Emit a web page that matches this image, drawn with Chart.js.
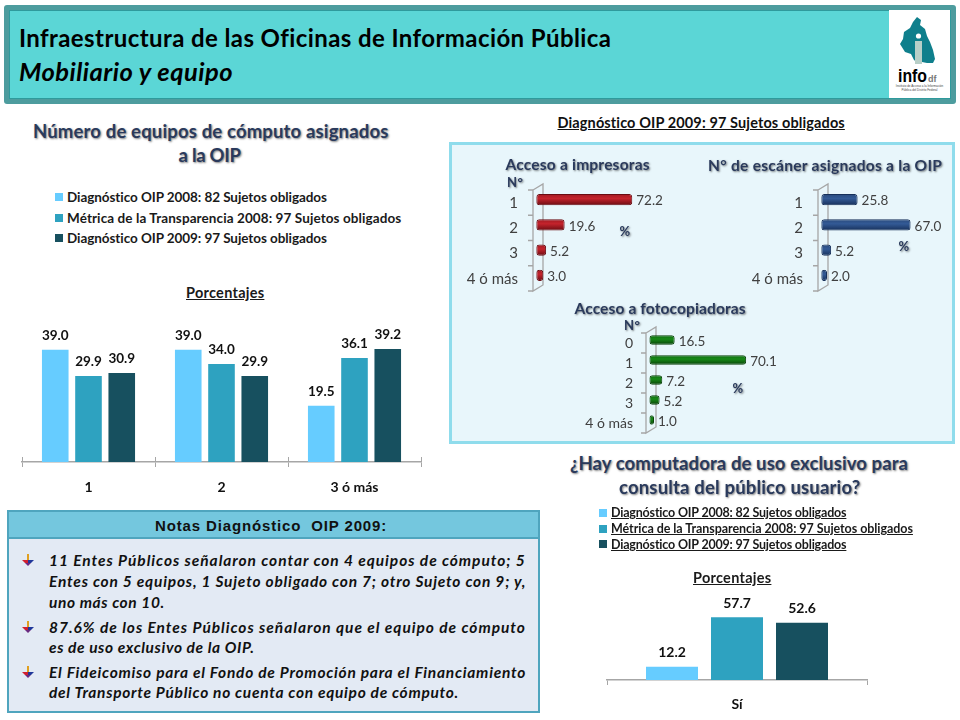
<!DOCTYPE html>
<html lang="es">
<head>
<meta charset="utf-8">
<title>Infraestructura de las Oficinas de Información Pública</title>
<script src="https://cdn.jsdelivr.net/npm/chart.js@4"></script>
<style>
html, body { margin: 0; padding: 0; background: #fff; }
#page { position: relative; width: 960px; height: 720px; overflow: hidden; font-family: Lato, sans-serif; }
#page canvas, #page svg, .box, .txt, .swatch { position: absolute; }
.txt { white-space: pre; }
.shadow { text-shadow: 1px 1px 2px rgba(0,0,0,.5); }
</style>
</head>
<body>
<div id="page">
  <div class="box" style="left:4px;top:5px;width:952px;height:99px;background:#4d9c9e;border-radius:3px"></div>
  <div class="box" style="left:9px;top:10px;width:940px;height:87px;background:#5bd6d6;border:1px solid #2f9a9c"></div>

  <svg style="left:889px;top:10px" width="61" height="88" viewBox="889 10 61 88">
    <rect x="889" y="10" width="61" height="88" fill="#fff"/>
    <path d="M917 17 l4 3 l-1 5 l5 4 l2 7 l3 6 l3 8 l2 9 l-2 4 l-6 0 l-5 -1 l-4 1 l-4 -3 l-3 -6 l-6 -2 l-5 -8 l3 -5 l1 -7 l6 -4 l3 -6 z" fill="#0f7f8c"/>
    <circle cx="918.5" cy="36" r="2.6" fill="#fff"/>
    <rect x="915" y="41" width="7" height="23" fill="#b8cfc8"/>
    <text x="898" y="82" font-family="Liberation Sans" font-weight="700" font-size="18" textLength="29" lengthAdjust="spacingAndGlyphs" fill="#000">info</text>
    <text x="928" y="82" font-family="Liberation Sans" font-weight="700" font-size="9" fill="#777">df</text>
    <text x="919.5" y="87" text-anchor="middle" font-family="Liberation Sans" font-size="3" fill="#444">Instituto de Acceso a la Información</text>
    <text x="919.5" y="91" text-anchor="middle" font-family="Liberation Sans" font-size="3" fill="#444">Pública del Distrito Federal</text>
  </svg>

  <div class="box" style="left:449px;top:142px;width:500px;height:296px;background:#e8f6fb;border:3px solid #8fdcec"></div>

  <div class="box" style="left:7px;top:510px;width:529px;height:199px;background:#e3eaf4;border:2px solid #4fa5be"></div>
  <div class="box" style="left:9px;top:512px;width:529px;height:25px;background:#74c7de;border-bottom:2px solid #4fa5be"></div>

  <canvas id="equiposChart"></canvas>
  <canvas id="impresorasChart"></canvas>
  <canvas id="escanerChart"></canvas>
  <canvas id="fotocopiadorasChart"></canvas>
  <canvas id="computadoraChart"></canvas>
</div>

<script>
// Series shared by the two column charts
const seriesNames = [
    'Diagnóstico OIP 2008: 82 Sujetos obligados',
    'Métrica de la Transparencia 2008: 97 Sujetos obligados',
    'Diagnóstico OIP 2009: 97 Sujetos obligados'
];
const seriesColors = ['#66ccff', '#2ea2c0', '#17505f'];

// Número de equipos de cómputo
const equiposLabels = ['1', '2', '3 ó más'];
const equipos2008 = [39.0, 39.0, 19.5];
const equiposMetrica = [29.9, 34.0, 36.1];
const equipos2009 = [30.9, 29.9, 39.2];

// Computadora de uso exclusivo
const computadoraLabels = ['Sí'];
const computadora2008 = [12.2];
const computadoraMetrica = [57.7];
const computadora2009 = [52.6];

// Diagnóstico OIP 2009 panels
const impresorasLabels = ['1', '2', '3', '4 ó más'];
const impresorasValues = [72.2, 19.6, 5.2, 3.0];
const escanerLabels = ['1', '2', '3', '4 ó más'];
const escanerValues = [25.8, 67.0, 5.2, 2.0];
const fotocopiadorasLabels = ['0', '1', '2', '3', '4 ó más'];
const fotocopiadorasValues = [16.5, 70.1, 7.2, 5.2, 1.0];

const page = document.getElementById('page');
const AXIS_COLOR = '#a6a6a6';

// Add one line of text, stretched to the width it has in the slide
function addText(str, o) {
    const el = document.createElement('div');
    el.className = 'txt' + (o.shadow ? ' shadow' : '');
    el.textContent = str;
    el.style.font = (o.style || '') + ' ' + (o.weight || 700) + ' ' + o.size + 'px/1.2 ' + (o.family || 'Lato');
    el.style.color = o.color || '#111';
    if (o.underline) el.style.textDecoration = 'underline';
    page.appendChild(el);
    el.style.letterSpacing = ((o.width - el.offsetWidth) / str.length) + 'px';
    const left = o.cx !== undefined ? o.cx - o.width / 2 : o.x;
    el.style.left = left + 'px';
    el.style.top = (o.y - el.offsetHeight / 2) + 'px';
}

// Legend of the column charts, built from the series arrays
function addLegend(x, ys, widths, size, underline) {
    seriesNames.forEach((name, i) => {
        const sw = document.createElement('div');
        sw.className = 'swatch';
        sw.style.cssText = 'left:' + x + 'px;top:' + (ys[i] - 4) + 'px;width:8px;height:8px;background:' + seriesColors[i];
        page.appendChild(sw);
        addText(name, { x: x + 12, y: ys[i], width: widths[i], size: size, underline: underline, color: '#1a1a1a' });
    });
}

// Value labels over or beside the bars
const barLabels = {
    id: 'barLabels',
    afterDatasetsDraw(chart, args, opts) {
        const ctx = chart.ctx;
        ctx.save();
        ctx.font = opts.font;
        ctx.fillStyle = opts.color;
        chart.data.datasets.forEach((ds, d) => {
            chart.getDatasetMeta(d).data.forEach((bar, i) => {
                const text = ds.data[i].toFixed(1);
                if (opts.horizontal) {
                    ctx.textAlign = 'left';
                    ctx.textBaseline = 'middle';
                    ctx.fillText(text, bar.x + 4, bar.y + 1.5);
                } else {
                    ctx.textAlign = 'center';
                    ctx.textBaseline = 'middle';
                    ctx.fillText(text, bar.x, bar.y - 14);
                }
            });
        });
        ctx.restore();
    }
};

// Ticks of the category axis also rise above the line in the first chart
const upTicks = {
    id: 'upTicks',
    afterDatasetsDraw(chart) {
        const x = chart.scales.x, ctx = chart.ctx, n = chart.data.labels.length;
        ctx.save();
        ctx.strokeStyle = AXIS_COLOR;
        ctx.lineWidth = 1;
        for (let i = 0; i <= n; i++) {
            const px = Math.round(x.left + i * x.width / n) + 0.5;
            ctx.beginPath();
            ctx.moveTo(px, x.top - 5);
            ctx.lineTo(px, x.top);
            ctx.stroke();
        }
        ctx.restore();
    }
};

// Thin 3D wall behind the horizontal bars
const wall = {
    id: 'wall',
    beforeDatasetsDraw(chart) {
        const a = chart.chartArea, ctx = chart.ctx, n = chart.data.labels.length;
        const step = (a.bottom - a.top) / n;
        ctx.save();
        ctx.strokeStyle = AXIS_COLOR;
        ctx.lineWidth = 1.3;
        ctx.beginPath();
        ctx.moveTo(a.left, a.top + 3);
        ctx.lineTo(a.left + 10, a.top - 3);
        ctx.lineTo(a.left + 10, a.bottom - 3);
        ctx.lineTo(a.left, a.bottom + 3);
        ctx.lineTo(a.left, a.top + 3);
        for (let i = 0; i <= n; i++) {
            const py = a.top + 3 + i * step;
            ctx.moveTo(a.left - 5, py);
            ctx.lineTo(a.left, py);
        }
        ctx.stroke();
        ctx.restore();
    }
};

// Column chart. plot is the rectangle of the plot area on the page
function makeColumnChart(id, labels, series, plot, yMax, cfg) {
    const el = document.getElementById(id);
    const pad = 10, topPad = 14, axisHeight = 40;
    el.width = plot.width + pad * 2;
    el.height = plot.height + topPad + axisHeight;
    el.style.left = (plot.left - pad) + 'px';
    el.style.top = (plot.top - topPad) + 'px';
    new Chart(el, {
        type: 'bar',
        data: {
            labels: labels,
            datasets: series.map((values, i) => ({
                label: seriesNames[i],
                data: values,
                backgroundColor: seriesColors[i],
                categoryPercentage: 0.75,
                barPercentage: 0.8
            }))
        },
        options: {
            responsive: false,
            animation: false,
            layout: { padding: { left: pad, right: pad, top: topPad, bottom: 0 } },
            plugins: {
                legend: { display: false },
                tooltip: { enabled: false },
                barLabels: { font: cfg.labelFont, color: '#111' }
            },
            scales: {
                y: { display: false, min: 0, max: yMax },
                x: {
                    afterFit(scale) { scale.height = axisHeight; },
                    border: { color: AXIS_COLOR, width: 1.5 },
                    grid: { drawOnChartArea: false, color: AXIS_COLOR, tickLength: 5 },
                    ticks: { color: '#111', padding: cfg.tickPadding, font: { family: 'Lato', size: 14, weight: 'bold' } }
                }
            }
        },
        plugins: cfg.upTicks ? [barLabels, upTicks] : [barLabels]
    });
}

// Horizontal cylinder-looking bars
function makeBarChart(id, labels, values, shades, plot, cfg) {
    const el = document.getElementById(id);
    const axisWidth = 90, vPad = 12, right = 40;
    el.width = axisWidth + plot.width + right;
    el.height = plot.height + vPad * 2;
    el.style.left = (plot.left - axisWidth) + 'px';
    el.style.top = (plot.top - vPad) + 'px';
    const barShare = cfg.barShare;
    new Chart(el, {
        type: 'bar',
        data: {
            labels: labels,
            datasets: [{
                data: values,
                base: -2.4,
                borderRadius: 3,
                borderSkipped: false,
                borderWidth: 1,
                borderColor: shades[2],
                categoryPercentage: 1,
                barPercentage: barShare,
                backgroundColor(c) {
                    const chart = c.chart;
                    if (!chart.chartArea || c.dataIndex === undefined) return shades[1];
                    const y = chart.scales.y.getPixelForValue(c.dataIndex);
                    const h = (chart.chartArea.height / labels.length) * barShare / 2;
                    const g = chart.ctx.createLinearGradient(0, y - h, 0, y + h);
                    g.addColorStop(0, shades[0]);
                    g.addColorStop(0.4, shades[1]);
                    g.addColorStop(1, shades[2]);
                    return g;
                }
            }]
        },
        options: {
            indexAxis: 'y',
            responsive: false,
            animation: false,
            layout: { padding: { left: 0, right: right, top: vPad, bottom: vPad } },
            plugins: {
                legend: { display: false },
                tooltip: { enabled: false },
                barLabels: { font: '13.5px Lato', color: '#404040', horizontal: true }
            },
            scales: {
                x: { display: false, min: -5, max: 100 },
                y: {
                    afterFit(scale) {
                        scale.width = axisWidth;
                        // keep the plot area exactly as tall as asked
                        scale.paddingTop = 0;
                        scale.paddingBottom = 0;
                    },
                    border: { display: false },
                    grid: { display: false },
                    ticks: {
                        color: '#404040',
                        padding: cfg.tickPadding,
                        labelOffset: 3.5,
                        font: { family: 'Lato', size: cfg.tickSize }
                    }
                }
            }
        },
        plugins: [wall, barLabels]
    });
}

// Initialize the charts
function initializeCharts() {
    makeColumnChart('equiposChart', equiposLabels, [equipos2008, equiposMetrica, equipos2009],
        { left: 22, top: 318, width: 399, height: 144 }, 50,
        { labelFont: 'bold 13.5px Lato', tickPadding: 12, upTicks: true });

    makeColumnChart('computadoraChart', computadoraLabels, [computadora2008, computadoraMetrica, computadora2009],
        { left: 606.7, top: 593, width: 260, height: 87.6 }, 80,
        { labelFont: 'bold 14px Lato', tickPadding: 11, upTicks: false });

    const red = ['#a01a22', '#c4232c', '#6a0c12'];
    const blue = ['#2a4a7c', '#335a96', '#17305a'];
    const green = ['#0f6a0f', '#178a17', '#084208'];
    makeBarChart('impresorasChart', impresorasLabels, impresorasValues, red,
        { left: 532.6, top: 187, width: 135, height: 101 }, { barShare: 0.45, tickSize: 15, tickPadding: 7 });
    makeBarChart('escanerChart', escanerLabels, escanerValues, blue,
        { left: 818, top: 187, width: 135, height: 101 }, { barShare: 0.45, tickSize: 15, tickPadding: 7 });
    makeBarChart('fotocopiadorasChart', fotocopiadorasLabels, fotocopiadorasValues, green,
        { left: 646.3, top: 329.7, width: 140.4, height: 100 }, { barShare: 0.47, tickSize: 14, tickPadding: 5 });
}

// Titles, legends and notes
function initializeTexts() {
    addText('Infraestructura de las Oficinas de Información Pública', { x: 19, y: 38, width: 592, size: 24, color: '#000' });
    addText('Mobiliario y equipo', { x: 19, y: 71, width: 214, size: 25.5, style: 'italic', color: '#000' });

    const navy = '#2a3a5c';
    addText('Número de equipos de cómputo asignados', { cx: 210.5, y: 131, width: 355, size: 18.5, color: navy, shadow: true });
    addText('a la OIP', { cx: 209.5, y: 155, width: 62, size: 18.5, color: navy, shadow: true });
    addLegend(55, [197, 217.5, 237.5], [260, 334, 260], 13.5, false);
    addText('Porcentajes', { cx: 225, y: 292, width: 78, size: 14.5, underline: true, color: '#1a1a1a' });

    addText('Diagnóstico OIP 2009: 97 Sujetos obligados', { cx: 701.5, y: 122, width: 288, size: 14.5, underline: true, color: '#111' });
    addText('Acceso a impresoras', { cx: 577.5, y: 164, width: 144, size: 15.5, color: navy, shadow: true });
    addText('N° de escáner asignados a la OIP', { cx: 825, y: 165, width: 234, size: 15.5, color: navy, shadow: true });
    addText('Acceso a fotocopiadoras', { cx: 660, y: 308, width: 171, size: 15.5, color: navy, shadow: true });
    addText('N°', { cx: 515, y: 183, width: 16, size: 13, color: navy, shadow: true });
    addText('N°', { cx: 632, y: 326, width: 16, size: 13, color: navy, shadow: true });
    addText('%', { cx: 625, y: 232, width: 11, size: 13, color: navy, shadow: true });
    addText('%', { cx: 904, y: 247, width: 11, size: 13, color: navy, shadow: true });
    addText('%', { cx: 738, y: 389, width: 11, size: 13, color: navy, shadow: true });

    addText('¿Hay computadora de uso exclusivo para', { cx: 739, y: 463, width: 338, size: 18.5, color: navy, shadow: true });
    addText('consulta del público usuario?', { cx: 739.5, y: 487, width: 241, size: 18.5, color: navy, shadow: true });
    addLegend(599, [512.7, 528.5, 544.3], [236, 302, 236], 12.5, true);
    addText('Porcentajes', { cx: 732, y: 577, width: 78, size: 14.5, underline: true, color: '#1a1a1a' });

    addText('Notas Diagnóstico  OIP 2009:', { cx: 271, y: 525.5, width: 232, size: 15, family: 'Liberation Sans', color: '#111' });

    const noteLines = [
        ['11 Entes Públicos señalaron contar con 4 equipos de cómputo; 5', 560, 477],
        ['Entes con 5 equipos, 1 Sujeto obligado con 7; otro Sujeto con 9; y,', 581, 477],
        ['uno más con 10.', 602, 116],
        ['87.6% de los Entes Públicos señalaron que el equipo de cómputo', 627, 477],
        ['es de uso exclusivo de la OIP.', 647.3, 205],
        ['El Fideicomiso para el Fondo de Promoción para el Financiamiento', 672, 477],
        ['del Transporte Público no cuenta con equipo de cómputo.', 692.5, 410]
    ];
    noteLines.forEach(line => {
        addText(line[0], { x: 49, y: line[1], width: line[2], size: 15.5, style: 'italic', color: '#111' });
    });

    // Bullets of the notes
    [560, 627, 672].forEach(y => {
        const svgNS = 'http://www.w3.org/2000/svg';
        const icon = document.createElementNS(svgNS, 'svg');
        icon.setAttribute('width', '12');
        icon.setAttribute('height', '12');
        icon.style.left = '22px';
        icon.style.top = (y - 6) + 'px';
        const parts = [
            ['M5 0 h2 v6 h-2 z', '#e0a020'],
            ['M0 6 h6 v3 h-3 z', '#d02030'],
            ['M6 6 h6 l-3 3 h-3 z', '#20389a'],
            ['M3 9 h6 l-3 3 z', '#6a2a80']
        ];
        parts.forEach(p => {
            const path = document.createElementNS(svgNS, 'path');
            path.setAttribute('d', p[0]);
            path.setAttribute('fill', p[1]);
            icon.appendChild(path);
        });
        page.appendChild(icon);
    });
}

initializeCharts();
initializeTexts();
</script>
</body>
</html>
